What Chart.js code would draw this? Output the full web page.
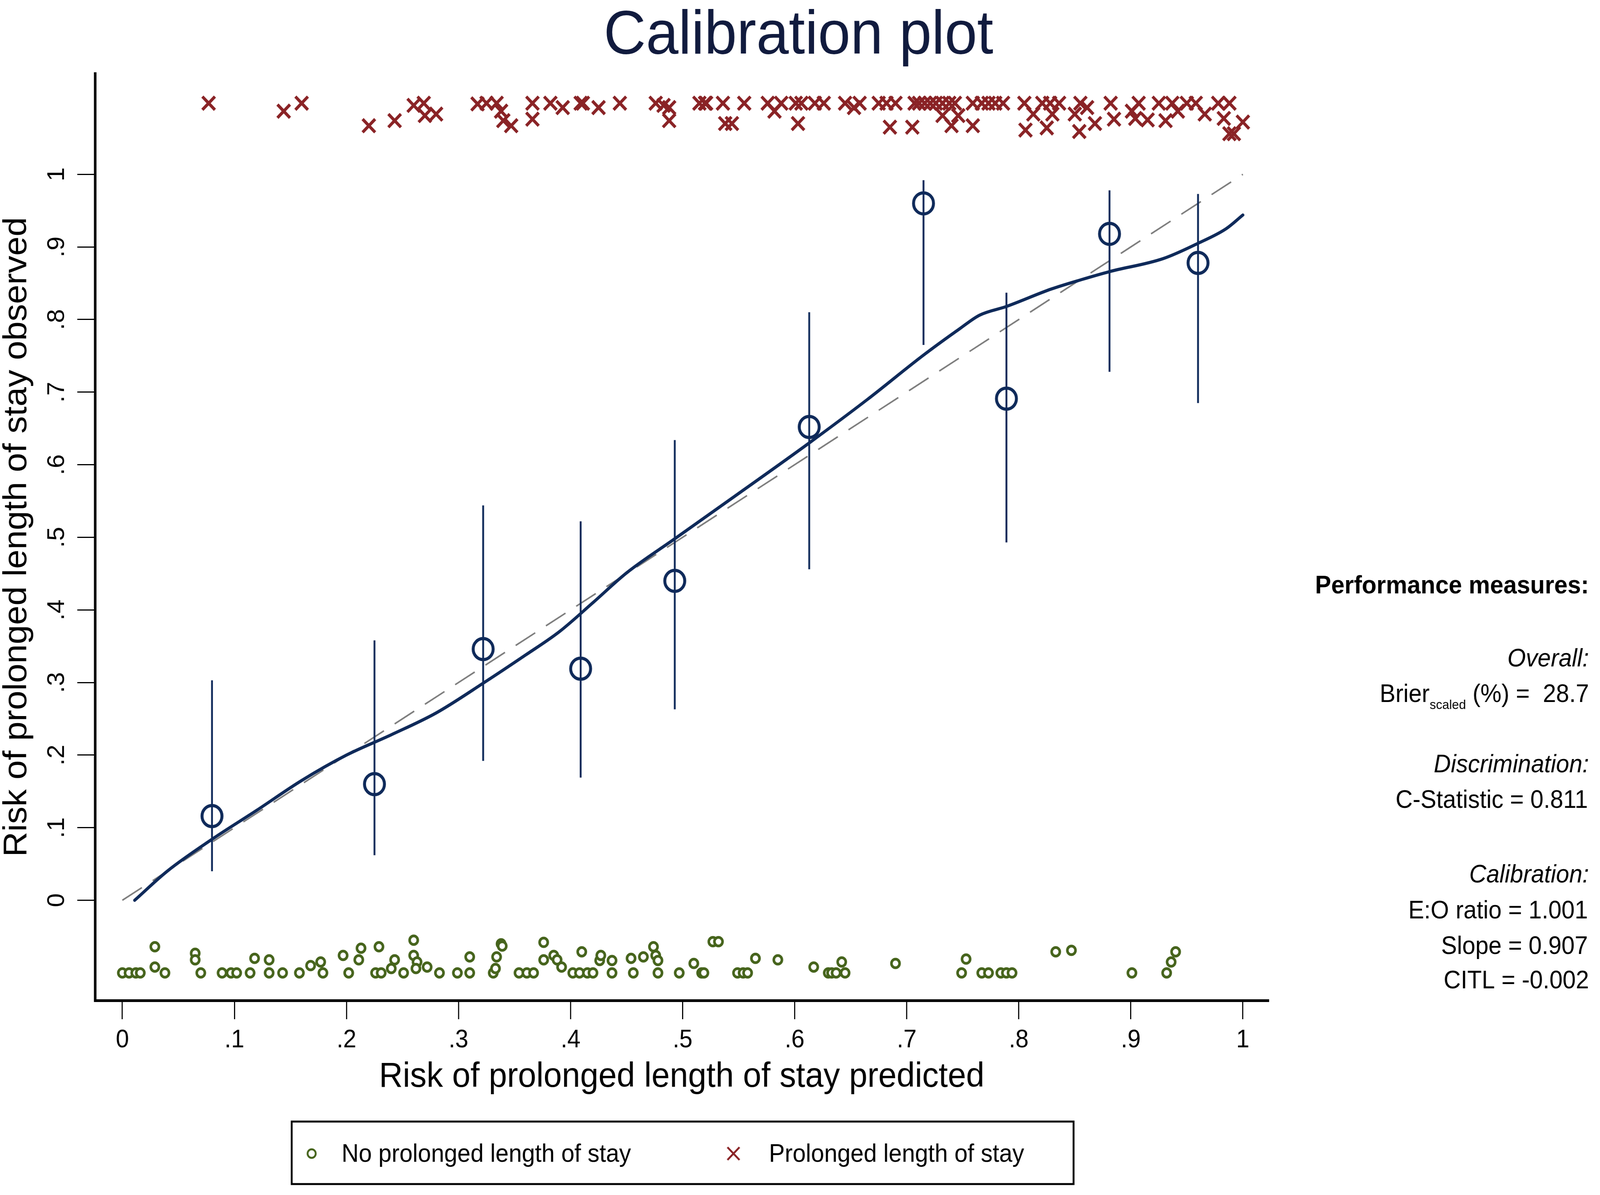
<!DOCTYPE html>
<html>
<head>
<meta charset="utf-8">
<title>Calibration plot</title>
<script src="https://cdn.jsdelivr.net/npm/chart.js@4.4.1/dist/chart.umd.min.js"></script>
<style>
  html, body { margin: 0; padding: 0; background: #fff; overflow: hidden; }
  canvas { display: block; }
</style>
</head>
<body>
<canvas id="calib" width="4328" height="3059" style="width:100vw;height:100vh"></canvas>
<script>
// ticks
const xTicks = [0, 0.1, 0.2, 0.3, 0.4, 0.5, 0.6, 0.7, 0.8, 0.9, 1];
const xTickLabels = ['0', '.1', '.2', '.3', '.4', '.5', '.6', '.7', '.8', '.9', '1'];
const yTicks = [0, 0.1, 0.2, 0.3, 0.4, 0.5, 0.6, 0.7, 0.8, 0.9, 1];
const yTickLabels = ['0', '.1', '.2', '.3', '.4', '.5', '.6', '.7', '.8', '.9', '1'];

// grouped observations (deciles of predicted risk) with 95% CI
const groupPred = [0.080, 0.225, 0.322, 0.409, 0.493, 0.613, 0.715, 0.789, 0.881, 0.960];
const groupObs  = [0.116, 0.160, 0.346, 0.319, 0.440, 0.652, 0.960, 0.691, 0.918, 0.878];
const groupLo   = [0.040, 0.062, 0.192, 0.169, 0.263, 0.456, 0.765, 0.493, 0.728, 0.685];
const groupHi   = [0.303, 0.358, 0.544, 0.522, 0.634, 0.810, 0.992, 0.837, 0.978, 0.973];

// lowess smoother
const smoothPred = [0.011, 0.040, 0.080, 0.120, 0.160, 0.200, 0.240, 0.280, 0.322, 0.360, 0.390,
  0.420, 0.450, 0.493, 0.546, 0.613, 0.665, 0.715, 0.747, 0.765, 0.789, 0.829, 0.856, 0.881,
  0.929, 0.960, 0.985, 1.000];
const smoothObs = [0.000, 0.040, 0.084, 0.124, 0.165, 0.200, 0.228, 0.258, 0.299, 0.338, 0.370,
  0.410, 0.451, 0.498, 0.556, 0.630, 0.690, 0.751, 0.787, 0.806, 0.818, 0.842, 0.855, 0.866,
  0.884, 0.905, 0.925, 0.944];

// reference line (perfect calibration)
const refX = [0, 1];
const refY = [0, 1];

// rug: prolonged length of stay (x = predicted, y = jittered position above plot)
const prolongedX = [0.077, 0.144, 0.160, 0.220, 0.243, 0.260, 0.269, 0.270, 0.280, 0.317, 0.325,
  0.334, 0.338, 0.340, 0.347, 0.366, 0.366, 0.382, 0.393, 0.409, 0.411, 0.425, 0.444, 0.476,
  0.483, 0.488, 0.488, 0.515, 0.520, 0.521, 0.536, 0.538, 0.544, 0.555, 0.576, 0.582, 0.588,
  0.601, 0.603, 0.606, 0.618, 0.626, 0.645, 0.653, 0.658, 0.675, 0.682, 0.685, 0.690, 0.705,
  0.707, 0.711, 0.716, 0.721, 0.726, 0.732, 0.738, 0.743, 0.732, 0.740, 0.746, 0.759, 0.759,
  0.767, 0.773, 0.779, 0.786, 0.805, 0.806, 0.813, 0.821, 0.828, 0.830, 0.825, 0.836, 0.855,
  0.850, 0.854, 0.861, 0.868, 0.882, 0.885, 0.901, 0.907, 0.904, 0.915, 0.925, 0.931, 0.937,
  0.942, 0.950, 0.958, 0.966, 0.978, 0.983, 0.988, 0.988, 1.000, 0.992];
const prolongedY = [1.098, 1.087, 1.098, 1.067, 1.074, 1.095, 1.098, 1.081, 1.083, 1.097, 1.098,
  1.098, 1.087, 1.074, 1.067, 1.098, 1.076, 1.098, 1.092, 1.098, 1.098, 1.092, 1.098, 1.098,
  1.095, 1.092, 1.074, 1.098, 1.098, 1.098, 1.098, 1.070, 1.070, 1.098, 1.098, 1.087, 1.098,
  1.098, 1.070, 1.098, 1.098, 1.098, 1.098, 1.092, 1.098, 1.098, 1.098, 1.065, 1.098, 1.065,
  1.098, 1.098, 1.098, 1.098, 1.098, 1.098, 1.098, 1.098, 1.081, 1.067, 1.081, 1.067, 1.098,
  1.098, 1.098, 1.098, 1.098, 1.098, 1.061, 1.083, 1.098, 1.098, 1.083, 1.064, 1.098, 1.098,
  1.083, 1.059, 1.092, 1.070, 1.098, 1.076, 1.087, 1.098, 1.077, 1.075, 1.098, 1.074, 1.098,
  1.087, 1.098, 1.098, 1.083, 1.098, 1.077, 1.098, 1.056, 1.072, 1.056];

// rug: no prolonged length of stay (below plot)
const noProlongedX = [0.000, 0.006, 0.012, 0.016, 0.029, 0.029, 0.038, 0.065, 0.065, 0.070, 0.089,
  0.097, 0.102, 0.114, 0.118, 0.131, 0.131, 0.143, 0.158, 0.168, 0.177, 0.179, 0.197, 0.202,
  0.213, 0.211, 0.229, 0.226, 0.231, 0.240, 0.243, 0.251, 0.260, 0.260, 0.263, 0.262, 0.272,
  0.283, 0.299, 0.310, 0.310, 0.331, 0.333, 0.334, 0.338, 0.339, 0.354, 0.361, 0.367, 0.376,
  0.376, 0.385, 0.388, 0.392, 0.402, 0.408, 0.410, 0.415, 0.420, 0.426, 0.427, 0.437, 0.437,
  0.456, 0.454, 0.465, 0.474, 0.476, 0.478, 0.478, 0.497, 0.510, 0.517, 0.519, 0.527, 0.532,
  0.549, 0.554, 0.558, 0.565, 0.585, 0.617, 0.630, 0.633, 0.637, 0.642, 0.645, 0.690, 0.749,
  0.753, 0.767, 0.773, 0.784, 0.789, 0.794, 0.833, 0.847, 0.901, 0.932, 0.936, 0.940];
const noProlongedY = [-0.100, -0.100, -0.100, -0.100, -0.064, -0.092, -0.100, -0.073, -0.082, -0.100, -0.100,
  -0.100, -0.100, -0.100, -0.080, -0.082, -0.100, -0.100, -0.100, -0.090, -0.085, -0.100, -0.076, -0.100,
  -0.066, -0.082, -0.064, -0.100, -0.100, -0.094, -0.082, -0.100, -0.055, -0.076, -0.085, -0.094, -0.092,
  -0.100, -0.100, -0.100, -0.078, -0.100, -0.094, -0.078, -0.060, -0.063, -0.100, -0.100, -0.100, -0.082,
  -0.058, -0.076, -0.082, -0.092, -0.100, -0.100, -0.071, -0.100, -0.100, -0.083, -0.076, -0.100, -0.083,
  -0.100, -0.080, -0.078, -0.064, -0.076, -0.083, -0.100, -0.100, -0.087, -0.100, -0.100, -0.057, -0.057,
  -0.100, -0.100, -0.100, -0.080, -0.082, -0.092, -0.100, -0.100, -0.100, -0.085, -0.100, -0.087, -0.100,
  -0.081, -0.100, -0.100, -0.100, -0.100, -0.100, -0.071, -0.069, -0.100, -0.100, -0.085, -0.071];

// legend entries
const legendLabels = ['No prolonged length of stay', 'Prolonged length of stay'];

// performance measures panel
const chartTitle = 'Calibration plot';
const measureHeader = 'Performance measures:';
const measureSections = ['Overall:', 'Discrimination:', 'Calibration:'];
const brierValue = '28.7';
const cStatistic = '0.811';
const eoRatio = '1.001';
const calSlope = '0.907';
const citl = '-0.002';

const NAVY = '#0f2a5a';
const TITLE_NAVY = '#111b3e';
const RED = '#8a2326';
const GREEN = '#46641c';
const GREY = '#7d7d7d';
const FONT = "'Liberation Sans', Arial, Helvetica, sans-serif";

Chart.defaults.font.family = FONT;
Chart.defaults.color = '#000';

const toXY = (xs, ys) => xs.map((x, i) => ({ x: x, y: ys[i] }));

// vertical CI segments, separated by gaps
const ciPoints = [];
groupPred.forEach((x, i) => {
  ciPoints.push({ x: x, y: groupLo[i] }, { x: x, y: groupHi[i] }, { x: x, y: null });
});

// title is centred on the whole figure, not on the plot region
const figureTitle = {
  id: 'figureTitle',
  afterDraw(chart) {
    const ctx = chart.ctx;
    ctx.save();
    ctx.font = '158px ' + FONT;
    ctx.fillStyle = TITLE_NAVY;
    ctx.textAlign = 'center';
    ctx.textBaseline = 'alphabetic';
    ctx.fillText(chartTitle, chart.width / 2 - 4, 137);
    ctx.restore();
  }
};

// y tick labels are rotated in the original, so they are drawn here
const yTickText = {
  id: 'yTickText',
  afterDraw(chart) {
    const ctx = chart.ctx;
    const sc = chart.scales.y;
    ctx.save();
    ctx.font = '64px ' + FONT;
    ctx.fillStyle = '#000';
    ctx.textAlign = 'center';
    ctx.textBaseline = 'alphabetic';
    yTicks.forEach((v, i) => {
      ctx.save();
      ctx.translate(sc.right - 48 - 36, sc.getPixelForValue(v));
      ctx.rotate(-Math.PI / 2);
      ctx.fillText(yTickLabels[i], 0, 0);
      ctx.restore();
    });
    ctx.restore();
  }
};

// boxed legend at the bottom
const boxedLegend = {
  id: 'boxedLegend',
  afterDraw(chart) {
    const ctx = chart.ctx;
    ctx.save();
    ctx.lineWidth = 5;
    ctx.strokeStyle = '#000';
    ctx.strokeRect(789, 2871, 2115, 160);

    ctx.fillStyle = '#fff';
    ctx.strokeStyle = GREEN;
    Chart.helpers.drawPoint(ctx, { pointStyle: 'circle', radius: 11, borderWidth: 7, rotation: 0 }, 843, 2953);
    ctx.strokeStyle = RED;
    Chart.helpers.drawPoint(ctx, { pointStyle: 'crossRot', radius: 23, borderWidth: 8, rotation: 0 }, 1984, 2953);

    ctx.fillStyle = '#000';
    ctx.font = '64px ' + FONT;
    ctx.textAlign = 'left';
    ctx.textBaseline = 'middle';
    ctx.fillText(legendLabels[0], 924, 2956);
    ctx.fillText(legendLabels[1], 2080, 2956);
    ctx.restore();
  }
};

// text panel on the right
const measuresPanel = {
  id: 'measuresPanel',
  afterDraw(chart) {
    const ctx = chart.ctx;
    const right = 4298;
    ctx.save();
    ctx.fillStyle = '#000';
    ctx.textAlign = 'right';
    ctx.textBaseline = 'middle';

    ctx.font = 'bold 65px ' + FONT;
    ctx.fillText(measureHeader, right, 1501);

    ctx.font = 'italic 64px ' + FONT;
    ctx.fillText(measureSections[0], right, 1688);
    ctx.fillText(measureSections[1], right, 1959);
    ctx.fillText(measureSections[2], right, 2241);

    ctx.font = '64px ' + FONT;
    const tail = ' (%) =  ' + brierValue;
    ctx.fillText(tail, right, 1779);
    let x = right - ctx.measureText(tail).width;
    ctx.font = '34px ' + FONT;
    ctx.fillText('scaled', x, 1806);
    x -= ctx.measureText('scaled').width;
    ctx.font = '64px ' + FONT;
    ctx.fillText('Brier', x, 1779);

    ctx.fillText('C-Statistic = ' + cStatistic, right - 3, 2050);
    ctx.fillText('E:O ratio = ' + eoRatio, right - 3, 2333);
    ctx.fillText('Slope = ' + calSlope, right - 3, 2424);
    ctx.fillText('CITL = ' + citl, right, 2512);
    ctx.restore();
  }
};

new Chart(document.getElementById('calib'), {
  type: 'scatter',
  data: {
    datasets: [
      {
        label: 'Grouped observations',
        data: toXY(groupPred, groupObs),
        pointStyle: 'circle',
        pointRadius: 27,
        borderWidth: 8,
        borderColor: NAVY,
        backgroundColor: 'rgba(0,0,0,0)',
        order: 0
      },
      {
        label: '95% CI',
        data: ciPoints,
        showLine: true,
        spanGaps: false,
        borderColor: NAVY,
        borderWidth: 5,
        pointRadius: 0,
        order: 1
      },
      {
        label: 'Lowess',
        data: toXY(smoothPred, smoothObs),
        showLine: true,
        cubicInterpolationMode: 'monotone',
        borderColor: NAVY,
        borderWidth: 8,
        borderCapStyle: 'round',
        pointRadius: 0,
        order: 2
      },
      {
        label: 'Reference',
        data: toXY(refX, refY),
        showLine: true,
        borderColor: GREY,
        borderWidth: 4,
        borderDash: [62, 34],
        pointRadius: 0,
        order: 3
      },
      {
        label: legendLabels[1],
        data: toXY(prolongedX, prolongedY),
        pointStyle: 'crossRot',
        pointRadius: 24,
        borderWidth: 8,
        borderColor: RED,
        backgroundColor: RED,
        order: 4
      },
      {
        label: legendLabels[0],
        data: toXY(noProlongedX, noProlongedY),
        pointStyle: 'circle',
        pointRadius: 11,
        borderWidth: 7,
        borderColor: GREEN,
        backgroundColor: '#fff',
        order: 5
      }
    ]
  },
  options: {
    responsive: false,
    devicePixelRatio: 1,
    animation: false,
    events: [],
    layout: { padding: { left: 0, right: 897, top: 188, bottom: 257 } },
    plugins: {
      legend: { display: false },
      tooltip: { enabled: false },
      title: { display: false }
    },
    scales: {
      x: {
        type: 'linear',
        min: -0.0244,
        max: 1.0228,
        afterBuildTicks: (sc) => { sc.ticks = xTicks.map(v => ({ value: v })); },
        afterFit: (sc) => { sc.height = 241; },
        ticks: {
          padding: 16,
          font: { size: 64 },
          color: '#000',
          maxRotation: 0,
          callback: (v, i) => xTickLabels[i]
        },
        grid: { display: true, drawOnChartArea: false, drawTicks: true, tickLength: 48, color: '#000', lineWidth: 3 },
        border: { display: true, color: '#000', width: 7 },
        title: {
          display: true,
          text: 'Risk of prolonged length of stay predicted',
          color: '#000',
          font: { size: 89, lineHeight: 1 },
          padding: { top: 0, bottom: 0 }
        }
      },
      y: {
        type: 'linear',
        min: -0.138,
        max: 1.139,
        afterBuildTicks: (sc) => { sc.ticks = yTicks.map(v => ({ value: v })); },
        afterFit: (sc) => { sc.width = 257; },
        ticks: { display: false },
        grid: { display: true, drawOnChartArea: false, drawTicks: true, tickLength: 48, color: '#000', lineWidth: 3 },
        border: { display: true, color: '#000', width: 7 },
        title: {
          display: true,
          text: 'Risk of prolonged length of stay observed',
          color: '#000',
          font: { size: 89, lineHeight: 1 },
          padding: { top: 2, bottom: 0 }
        }
      }
    }
  },
  plugins: [figureTitle, yTickText, boxedLegend, measuresPanel]
});
</script>
</body>
</html>
